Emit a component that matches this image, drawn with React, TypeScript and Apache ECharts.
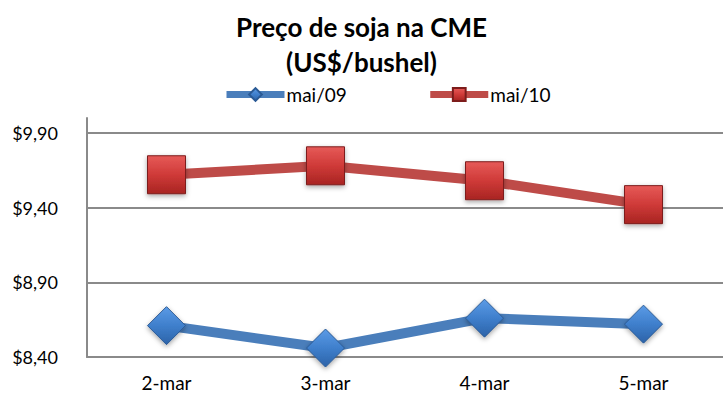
import React, { useEffect, useRef } from "react";
import * as echarts from "echarts";

const categories = ["2-mar", "3-mar", "4-mar", "5-mar"];
const mai09 = [8.61, 8.46, 8.66, 8.62];
const mai10 = [9.62, 9.68, 9.58, 9.42];
const titleLines = ["Preço de soja na CME", "(US$/bushel)"];
const FONT = "Lato, 'Open Sans', sans-serif";

export default function App() {
  const ref = useRef<HTMLDivElement>(null);
  useEffect(() => {
    if (!ref.current) return;
    const chart = echarts.init(ref.current, null, { renderer: "svg" });
    const redFill = new echarts.graphic.LinearGradient(0, 0, 0, 1, [
      { offset: 0, color: "#e65a58" },
      { offset: 0.5, color: "#cf3a38" },
      { offset: 1, color: "#a82422" },
    ]);
    const blueFill = new echarts.graphic.LinearGradient(0, 0, 0, 1, [
      { offset: 0, color: "#5b9be6" },
      { offset: 0.5, color: "#3f7fcc" },
      { offset: 1, color: "#2c63a8" },
    ]);
    chart.setOption({
      animation: false,
      backgroundColor: "#ffffff",
      textStyle: { fontFamily: FONT },
      title: {
        text: titleLines.join("\n"),
        left: "center",
        top: 4,
        textStyle: {
          fontFamily: FONT,
          fontSize: 26,
          fontWeight: "bold",
          color: "#000",
          lineHeight: 35,
        },
      },
      legend: {
        left: 218,
        top: 80,
        itemWidth: 58,
        itemHeight: 16,
        itemGap: 80,
        lineStyle: { width: 7 },
        textStyle: { fontFamily: FONT, fontSize: 19, color: "#000", padding: [0, 0, 0, -3] },
        data: ["mai/09", "mai/10"],
      },
      grid: { left: 87, right: -12, top: 118, bottom: 44, containLabel: false },
      xAxis: {
        type: "category",
        data: categories,
        boundaryGap: true,
        axisLine: { show: true, lineStyle: { color: "#8a8a8a", width: 2 } },
        axisTick: { show: false },
        axisLabel: { color: "#000", fontSize: 19, fontFamily: FONT, margin: 16 },
      },
      yAxis: {
        type: "value",
        min: 8.4,
        max: 10.0,
        interval: 0.5,
        axisLine: { show: true, lineStyle: { color: "#8a8a8a", width: 2 } },
        axisTick: { show: false },
        axisLabel: {
          color: "#000",
          fontSize: 18,
          fontFamily: FONT,
          margin: 29,
          showMaxLabel: false,
          formatter: (v: number) => "$" + v.toFixed(2).replace(".", ","),
        },
        splitLine: {
          show: true,
          showMaxLine: false,
          lineStyle: { color: "#8a8a8a", width: 2 },
        },
      },
      series: [
        {
          name: "mai/09",
          type: "line",
          data: mai09,
          symbol: "diamond",
          symbolSize: 38,
          lineStyle: { color: "#4a7ebb", width: 10 },
          itemStyle: {
            color: blueFill,
            borderColor: "#2a5a95",
            borderWidth: 1,
            shadowBlur: 5,
            shadowColor: "rgba(0,0,0,0.35)",
            shadowOffsetY: 2,
          },
          z: 3,
        },
        {
          name: "mai/10",
          type: "line",
          data: mai10,
          symbol: "rect",
          symbolSize: 38,
          lineStyle: { color: "#be4b48", width: 10 },
          itemStyle: {
            color: redFill,
            borderColor: "#7d1c1b",
            borderWidth: 1,
            shadowBlur: 5,
            shadowColor: "rgba(0,0,0,0.35)",
            shadowOffsetY: 2,
          },
          z: 3,
        },
      ],
    });
    return () => chart.dispose();
  }, []);
  return (
    <div
      ref={ref}
      style={{ position: "absolute", left: 0, top: 0, width: 723, height: 401 }}
    />
  );
}
